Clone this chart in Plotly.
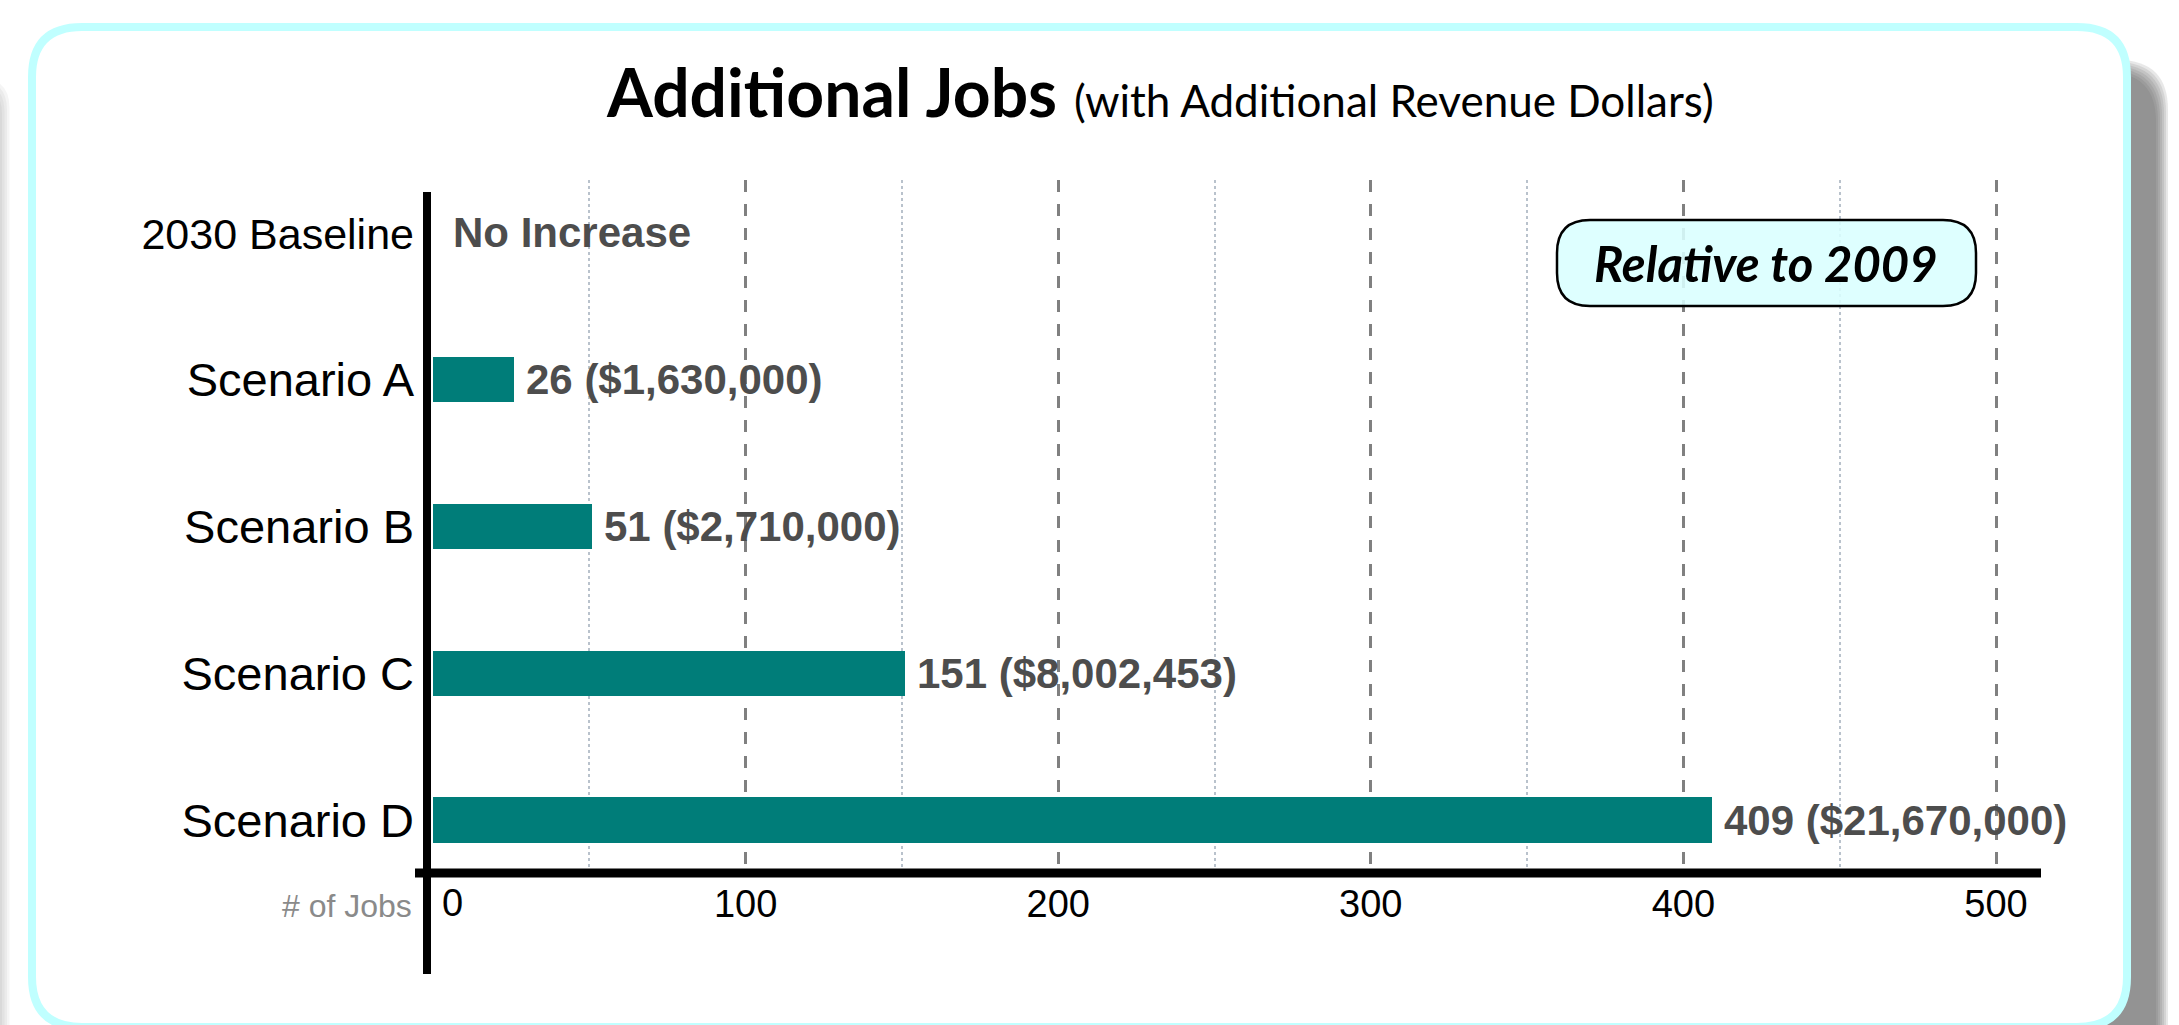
import plotly.graph_objects as go

# ---------------- data ----------------
categories = ["2030 Baseline", "Scenario A", "Scenario B", "Scenario C", "Scenario D"]
jobs = [0, 26, 51, 151, 409]
revenue = [None, 1630000, 2710000, 8002453, 21670000]
baseline_text = "No Increase"
x_major_ticks = [100, 200, 300, 400, 500]
x_minor_ticks = [50, 150, 250, 350, 450]
x_tick_text = ["100", "200", "300", "400", "500"]
zero_label = "0"
x_axis_label = "# of Jobs"
title_main = "Additional Jobs"
title_sub = "(with Additional Revenue Dollars)"
badge_text = "Relative to 2009"

bar_labels = [baseline_text if r is None else f"{j} (${r:,})" for j, r in zip(jobs, revenue)]

# ---------------- geometry helpers (pixel -> paper) ----------------
W, H = 2179, 1025


def px(x):
    return x / W


def py(y):
    return 1 - y / H


def rrect(x0, y0, x1, y1, r):
    pts = [
        f"M {px(x0 + r)},{py(y0)}",
        f"L {px(x1 - r)},{py(y0)}",
        f"Q {px(x1)},{py(y0)} {px(x1)},{py(y0 + r)}",
        f"L {px(x1)},{py(y1 - r)}",
        f"Q {px(x1)},{py(y1)} {px(x1 - r)},{py(y1)}",
        f"L {px(x0 + r)},{py(y1)}",
        f"Q {px(x0)},{py(y1)} {px(x0)},{py(y1 - r)}",
        f"L {px(x0)},{py(y0 + r)}",
        f"Q {px(x0)},{py(y0)} {px(x0 + r)},{py(y0)}",
        "Z",
    ]
    return " ".join(pts)


SANS = "Liberation Sans, Arial, Helvetica, sans-serif"
HUMAN = "Lato, Open Sans, sans-serif"
TEAL = "#007D79"
LABEL_GRAY = "#4d4d4d"

# x axis calibration: value 0 at px 433, 3.126 px per unit
X0PX, XSCALE = 433.0, 3.126
dom_left, dom_right = 427, 2041
x_range = [(dom_left - X0PX) / XSCALE, (dom_right - X0PX) / XSCALE]

fig = go.Figure()
fig.add_trace(go.Bar(
    x=jobs, y=categories, orientation="h",
    marker=dict(color=TEAL, line=dict(width=0)),
    width=0.31, hoverinfo="skip", showlegend=False,
))

shapes = []
# shadow on the right of the panel
for k in range(7):
    shapes.append(dict(type="path", xref="paper", yref="paper", layer="below",
                       path=rrect(90, 72 - 2 * k, 2156 + 2 * k, 1100, 50),
                       fillcolor="rgba(90,90,90,0.14)", line=dict(width=0)))
# faint shadow at the far left
for k in range(4):
    shapes.append(dict(type="path", xref="paper", yref="paper", layer="below",
                       path=rrect(-100, 84 - 2 * k, 2 + 2.5 * k, 1100, 30),
                       fillcolor="rgba(90,90,90,0.06)", line=dict(width=0)))
# panel
shapes.append(dict(type="path", xref="paper", yref="paper", layer="below",
                   path=rrect(32, 27, 2127, 1027, 50),
                   fillcolor="white", line=dict(color="#c0ffff", width=8)))
# axis lines
shapes.append(dict(type="line", xref="paper", yref="paper", layer="above",
                   x0=px(427), x1=px(427), y0=py(192), y1=py(974),
                   line=dict(color="black", width=8)))
shapes.append(dict(type="line", xref="paper", yref="paper", layer="above",
                   x0=px(415), x1=px(2041), y0=py(873), y1=py(873),
                   line=dict(color="black", width=9)))
# badge
shapes.append(dict(type="path", xref="paper", yref="paper", layer="above",
                   path=rrect(1557, 220, 1976, 306, 33),
                   fillcolor="rgba(217,255,255,0.88)", line=dict(color="black", width=2.5)))

annotations = []
annotations.append(dict(
    xref="paper", yref="paper", x=px(1160), y=py(92), xanchor="center", yanchor="middle",
    text=f"<b>{title_main}</b> <span style='font-size:44px'>{title_sub}</span>",
    showarrow=False, font=dict(family=HUMAN, size=66, color="black"),
))
annotations.append(dict(
    xref="paper", yref="paper", x=px(1766), y=py(263), xanchor="center", yanchor="middle",
    text=f"<b><i>{badge_text}</i></b>", showarrow=False,
    font=dict(family=HUMAN, size=49, color="black"),
))
annotations.append(dict(
    xref="x", yref="paper", x=0, y=py(903), xanchor="left", yanchor="middle", xshift=7,
    text=zero_label, showarrow=False, font=dict(family=SANS, size=38, color="black"),
))
annotations.append(dict(
    xref="paper", yref="paper", x=px(414), y=py(906), xanchor="right", yanchor="middle",
    text=x_axis_label, showarrow=False, font=dict(family=SANS, size=32, color="#8a8a8a"),
))
for c, j, t in zip(categories, jobs, bar_labels):
    annotations.append(dict(
        xref="x", yref="y", x=j, y=c, xanchor="left", yanchor="middle",
        xshift=18 if j == 0 else 10,
        text=f"<b>{t}</b>", showarrow=False,
        font=dict(family=SANS, size=42, color=LABEL_GRAY),
    ))

y_tick_text = [f"<span style='font-size:43px'>{c}</span>" if i == 0 else c
               for i, c in enumerate(categories)]

fig.update_layout(
    width=W, height=H, autosize=False,
    margin=dict(l=0, r=0, t=0, b=0, pad=0),
    paper_bgcolor="white", plot_bgcolor="rgba(0,0,0,0)",
    showlegend=False, bargap=0,
    shapes=shapes, annotations=annotations,
    xaxis=dict(
        domain=[px(dom_left), px(dom_right)], range=x_range,
        tickmode="array", tickvals=x_major_ticks, ticktext=x_tick_text,
        tickfont=dict(family=SANS, size=38, color="black"),
        ticks="", showline=False, zeroline=False,
        showgrid=True, gridcolor="#808080", gridwidth=2.5, griddash="12px,12px",
        minor=dict(tickmode="array", tickvals=x_minor_ticks, showgrid=True,
                   gridcolor="#b9c2cc", gridwidth=1.5, griddash="dot", ticks=""),
        ticklabelstandoff=5, fixedrange=True,
    ),
    yaxis=dict(
        domain=[py(873), py(180)], type="category",
        categoryorder="array", categoryarray=categories,
        range=[4.36, -0.36],
        tickmode="array", tickvals=categories, ticktext=y_tick_text,
        tickfont=dict(family=SANS, size=47, color="black"),
        ticks="", showline=False, zeroline=False, showgrid=False,
        ticklabelstandoff=12, fixedrange=True,
    ),
)

fig.write_html("out.html", config={"displayModeBar": False, "responsive": False},
               post_script="document.body.style.margin='0';document.body.style.overflow='hidden';")
